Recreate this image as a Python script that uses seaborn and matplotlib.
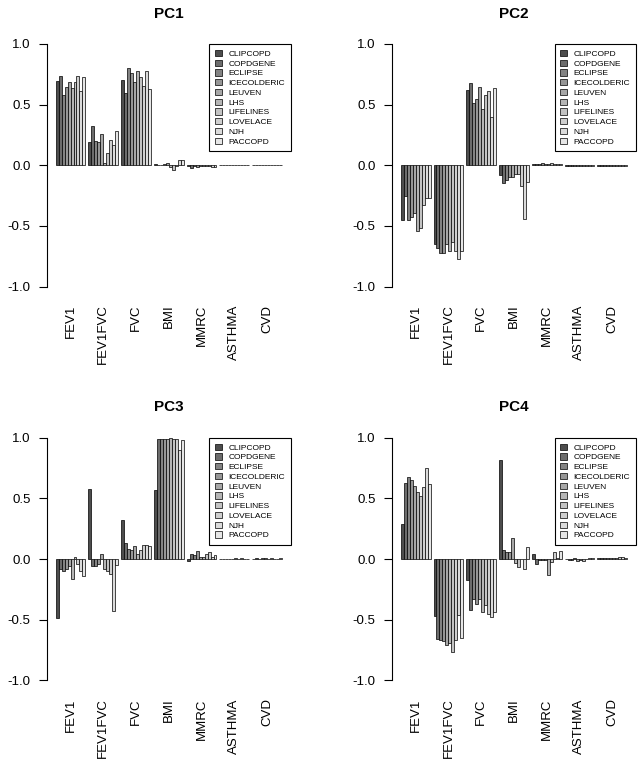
import matplotlib

matplotlib.use("Agg")
import matplotlib.pyplot as plt
import numpy as np
import pandas as pd
import seaborn as sns
from matplotlib.patches import Patch


VARIABLES = ["FEV1", "FEV1FVC", "FVC", "BMI", "MMRC", "ASTHMA", "CVD"]
COHORTS = ["CLIPCOPD", "COPDGENE", "ECLIPSE", "ICECOLDERIC", "LEUVEN",
           "LHS", "LIFELINES", "LOVELACE", "NJH", "PACCOPD"]

# loadings: one row per variable, one value per cohort
PC1 = [
    [0.695, 0.736, 0.577, 0.643, 0.684, 0.635, 0.684, 0.739, 0.613, 0.728],
    [0.19, 0.32, 0.20, 0.19, 0.26, 0.02, 0.10, 0.21, 0.17, 0.28],
    [0.70, 0.60, 0.80, 0.76, 0.69, 0.78, 0.73, 0.65, 0.78, 0.63],
    [0.01, 0.005, 0.005, 0.01, 0.02, -0.015, -0.035, -0.01, 0.04, 0.045],
    [-0.01, -0.02, -0.01, -0.015, -0.01, -0.005, -0.01, -0.01, -0.015, -0.015],
    [0.002, 0.002, 0.001, 0.002, 0.003, 0.002, 0.001, 0.002, 0.003, 0.002],
    [0.002, 0.001, 0.002, 0.002, 0.001, 0.002, 0.002, 0.001, 0.002, 0.002],
]
PC2 = [
    [-0.45, -0.25, -0.455, -0.43, -0.39, -0.54, -0.52, -0.33, -0.27, -0.27],
    [-0.65, -0.68, -0.72, -0.72, -0.65, -0.71, -0.63, -0.71, -0.77, -0.71],
    [0.62, 0.68, 0.51, 0.55, 0.645, 0.46, 0.58, 0.61, 0.40, 0.64],
    [-0.08, -0.15, -0.12, -0.10, -0.10, -0.07, -0.07, -0.17, -0.445, -0.14],
    [0.01, 0.012, 0.01, 0.015, 0.01, 0.012, 0.015, 0.01, 0.008, 0.01],
    [-0.003, -0.002, -0.003, -0.004, -0.002, -0.003, -0.004, -0.002, -0.003, -0.003],
    [-0.005, -0.004, -0.006, -0.005, -0.004, -0.005, -0.006, -0.005, -0.004, -0.005],
]
PC3 = [
    [-0.49, -0.085, -0.10, -0.085, -0.06, -0.165, 0.02, -0.045, -0.095, -0.14],
    [0.58, -0.06, -0.06, -0.04, 0.045, -0.08, -0.10, -0.125, -0.43, -0.05],
    [0.32, 0.13, 0.08, 0.075, 0.105, 0.04, 0.075, 0.115, 0.115, 0.11],
    [0.57, 0.986, 0.99, 0.988, 0.986, 0.995, 0.99, 0.986, 0.90, 0.98],
    [-0.015, 0.04, 0.03, 0.065, 0.02, 0.02, 0.04, 0.055, 0.02, 0.035],
    [0.002, -0.002, 0.003, 0.001, 0.003, 0.005, 0.004, 0.005, 0.002, 0.003],
    [0.003, 0.005, 0.004, 0.006, 0.005, 0.004, 0.005, 0.003, 0.004, 0.005],
]
PC4 = [
    [0.29, 0.625, 0.68, 0.655, 0.60, 0.555, 0.52, 0.595, 0.75, 0.62],
    [-0.47, -0.66, -0.665, -0.675, -0.71, -0.695, -0.77, -0.665, -0.465, -0.65],
    [-0.175, -0.42, -0.33, -0.375, -0.33, -0.44, -0.38, -0.455, -0.48, -0.435],
    [0.82, 0.075, 0.055, 0.055, 0.17, -0.035, -0.07, 0.0, -0.085, 0.10],
    [0.04, -0.04, -0.005, -0.01, -0.01, -0.135, -0.025, 0.06, 0.005, 0.065],
    [0.002, -0.01, -0.005, 0.005, -0.015, -0.005, -0.015, 0.003, 0.012, 0.012],
    [0.01, 0.01, 0.005, 0.01, 0.005, 0.005, 0.012, 0.015, 0.015, 0.012],
]
PANELS = {"PC1": PC1, "PC2": PC2, "PC3": PC3, "PC4": PC4}

sns.set_theme(style="white")
plt.rcParams["font.family"] = ["Liberation Sans", "DejaVu Sans"]
for key in ["text.color", "axes.labelcolor", "xtick.color", "ytick.color"]:
    plt.rcParams[key] = "black"

# same greys as R's grey.colors(10)
levels = np.linspace(0.3 ** 2.2, 0.9 ** 2.2, len(COHORTS)) ** (1 / 2.2)
greys = [(g, g, g) for g in levels]


def to_long(rows):
    records = []
    for var, vals in zip(VARIABLES, rows):
        for cohort, v in zip(COHORTS, vals):
            records.append({"variable": var, "cohort": cohort, "value": v})
    return pd.DataFrame(records)


fig = plt.figure(figsize=(6.4, 7.62), dpi=100)
lefts = [0.0728, 0.612]
bottoms = [0.6112, 0.0945]
w, h = 0.382, 0.3438

for i, (name, rows) in enumerate(PANELS.items()):
    ax = fig.add_axes([lefts[i % 2], bottoms[i // 2], w, h])
    sns.barplot(data=to_long(rows), x="variable", y="value", hue="cohort",
                order=VARIABLES, hue_order=COHORTS, palette=greys,
                width=10 / 11, errorbar=None, edgecolor="black",
                linewidth=0.5, legend=False, ax=ax)
    ax.set_xlim(-0.731, 6.731)
    ax.set_ylim(-1.08, 1.08)
    ax.set_yticks([-1, -0.5, 0, 0.5, 1])
    ax.set_yticklabels(["-1.0", "-0.5", "0.0", "0.5", "1.0"])
    ax.set_xlabel("")
    ax.set_ylabel("")
    for s in ["top", "right", "bottom"]:
        ax.spines[s].set_visible(False)
    ax.spines["left"].set_bounds(-1, 1)
    ax.spines["left"].set_color("black")
    ax.spines["left"].set_linewidth(0.8)
    ax.tick_params(axis="y", left=True, length=6, width=0.8, pad=5.5,
                   labelsize=9.5)
    ax.tick_params(axis="x", bottom=False, length=0, pad=6, labelsize=9.5,
                   labelrotation=90)
    ax.set_title(name, fontsize=11, fontweight="bold", pad=12)

    handles = [Patch(facecolor=c, edgecolor="black", linewidth=0.5, label=lab)
               for c, lab in zip(greys, COHORTS)]
    leg = ax.legend(handles=handles, loc="upper right",
                    bbox_to_anchor=(1.0, 0.963), fontsize=6, frameon=True,
                    fancybox=False, edgecolor="black", framealpha=1,
                    borderaxespad=0, handlelength=0.8, handleheight=0.8,
                    handletextpad=0.8, labelspacing=0.2, borderpad=0.7)
    leg.get_frame().set_linewidth(0.8)

fig.savefig("out.png", dpi=100)
